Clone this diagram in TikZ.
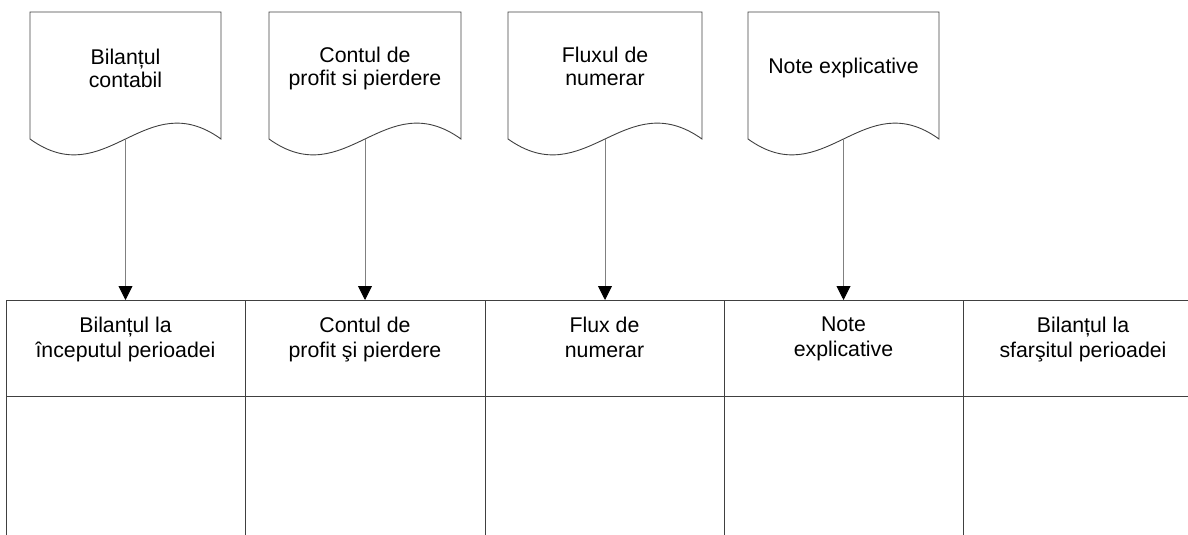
\documentclass[tikz,border=0pt]{standalone}
\usepackage{fontspec}
\setmainfont{Liberation Sans}
\usetikzlibrary{arrows.meta}
\begin{document}
\begin{tikzpicture}[x=1pt,y=-1pt,
  outline/.style={draw=black!75, line width=0.9pt},
  conn/.style={draw=black!50, line width=0.9pt, -{Triangle[length=14pt,width=14pt,color=black]}},
  doctext/.style={anchor=north, align=center, inner sep=0pt, font=\fontsize{21.3}{23}\selectfont},
  headtext/.style={anchor=north, align=center, inner sep=0pt, font=\fontsize{21.3}{25}\selectfont}]
\useasboundingbox (0,0) rectangle (1188,535);

% document shapes
\draw[outline] (30,139) -- (30,12) -- (221,12) -- (221,139) .. controls (144.6,84) and (106.4,194) .. cycle;
\draw[outline] (269,139) -- (269,12) -- (461,12) -- (461,139) .. controls (384.2,84) and (345.8,194) .. cycle;
\draw[outline] (508,139) -- (508,12) -- (702,12) -- (702,139) .. controls (624.4,84) and (585.6,194) .. cycle;
\draw[outline] (748,139) -- (748,12) -- (939,12) -- (939,139) .. controls (862.6,84) and (824.4,194) .. cycle;

\node[doctext] (doc1) at (125.5,49) {Bilanțul\\contabil};
\node[doctext] (doc2) at (365,47) {Contul de\\profit si pierdere};
\node[doctext] (doc3) at (605,47) {Fluxul de\\numerar};
\node[doctext] (doc4) at (843.5,58) {Note explicative};

\coordinate (d1) at (125.5,139);
\coordinate (d2) at (365,139);
\coordinate (d3) at (605,139);
\coordinate (d4) at (843.5,139);

% table
\draw[outline] (1188,300) -- (6,300) -- (6,535);
\draw[outline] (6,396) -- (1188,396);
\foreach \xx in {245,485,724,963} {\draw[outline] (\xx,300) -- (\xx,535);}

\coordinate (t1) at (125.5,300);
\coordinate (t2) at (365,300);
\coordinate (t3) at (605,300);
\coordinate (t4) at (843.5,300);

\node[headtext] (h1) at (125.5,317) {Bilanțul la\\începutul perioadei};
\node[headtext] (h2) at (365,317) {Contul de\\profit şi pierdere};
\node[headtext] (h3) at (604.5,317) {Flux de\\numerar};
\node[headtext] (h4) at (843.5,317) {Note\\explicative};
\node[headtext] (h5) at (1083,317) {Bilanțul la\\sfarşitul perioadei};

% connectors
\draw[conn] (d1) -- (t1);
\draw[conn] (d2) -- (t2);
\draw[conn] (d3) -- (t3);
\draw[conn] (d4) -- (t4);
\end{tikzpicture}
\end{document}
